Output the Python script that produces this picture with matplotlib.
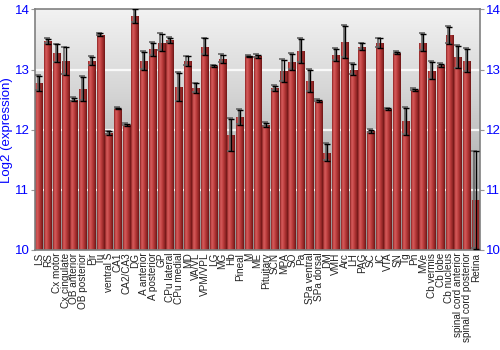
import numpy as np
import matplotlib
matplotlib.use("Agg")
import matplotlib.pyplot as plt
from matplotlib.colors import LinearSegmentedColormap
import matplotlib.transforms as mtransforms

regions = ["LS", "RS", "Cx motor", "Cx cingulate", "OB anterior", "OB posterior", "Pir", "Tu",
           "ventral S", "CA1", "CA2/CA3", "DG", "A anterior", "A posterior", "GP", "CPu lateral",
           "CPu medial", "MD", "VA/VL", "VPM/VPL", "LG", "MG", "Hb", "Pineal", "M", "ME",
           "Pituitary", "SCN", "MPA", "SO", "Pa", "SPa ventral", "SPa dorsal", "DM", "VMH", "Arc",
           "LH", "PAG", "SC", "IC", "VTA", "SN", "Tg", "Pn", "MVe", "Cb vermis", "Cb lobe",
           "Cb nucleus", "spinal cord anterior", "spinal cord posterior", "Retina"]

expression = [12.77, 13.47, 13.27, 13.14, 12.50, 12.68, 13.14, 13.58,
              11.94, 12.35, 12.08, 13.89, 13.14, 13.34, 13.45, 13.49,
              12.71, 13.14, 12.69, 13.38, 13.06, 13.18, 11.91, 12.21, 13.22, 13.22,
              12.08, 12.69, 12.98, 13.13, 13.31, 12.81, 12.48, 11.62, 13.24, 13.46,
              13.00, 13.38, 11.97, 13.44, 12.34, 13.28, 12.14, 12.66, 13.45, 12.98, 13.07,
              13.57, 13.21, 13.15, 10.83]

error = [0.125, 0.04, 0.15, 0.23, 0.03, 0.20, 0.07, 0.02,
         0.03, 0.01, 0.02, 0.12, 0.15, 0.11, 0.14, 0.04,
         0.24, 0.08, 0.08, 0.14, 0.01, 0.07, 0.27, 0.125, 0.01, 0.03,
         0.035, 0.04, 0.18, 0.13, 0.20, 0.18, 0.02, 0.14, 0.10, 0.27,
         0.09, 0.055, 0.02, 0.08, 0.015, 0.015, 0.225, 0.015, 0.145, 0.145, 0.02,
         0.14, 0.19, 0.19, 0.81]

y_ticks = [10, 11, 12, 13, 14]
y_label = "Log2 (expression)"

plt.rcParams['font.family'] = ['Liberation Sans', 'DejaVu Sans']

fig = plt.figure(figsize=(5, 3.5), dpi=100)
ax = fig.add_axes([0.07, 0.286, 0.89, 0.687])

# background vertical gradient
bg_cmap = LinearSegmentedColormap.from_list("bg", ["#8e8e8e", "#b4b4b4", "#d6d6d6", "#f2f2f2"])
bg = np.linspace(0, 1, 256).reshape(-1, 1)
ax.imshow(bg, extent=[0, 1, 0, 1], transform=ax.transAxes, aspect='auto',
          cmap=bg_cmap, origin='lower', zorder=0, interpolation='bicubic')

for yv in y_ticks[1:-1]:
    ax.axhline(yv, color='white', lw=1.6, alpha=0.85, zorder=1)

x = np.arange(len(regions))
ymin = y_ticks[0]
bars = ax.bar(x, np.array(expression) - ymin, bottom=ymin, width=0.9,
              facecolor='none', edgecolor='none', zorder=2)

bar_cmap = LinearSegmentedColormap.from_list(
    "bar", [(0.0, "#7a1c1c"), (0.12, "#c44848"), (0.3, "#d45a5a"), (0.55, "#bb3c3c"),
            (0.85, "#8e2424"), (1.0, "#6a1515")])
grad = np.linspace(0, 1, 64).reshape(1, -1)
for p in bars:
    bx, by = p.get_x(), p.get_y()
    bw, bh = p.get_width(), p.get_height()
    im = ax.imshow(grad, extent=[bx, bx + bw, by, by + bh], aspect='auto',
                   cmap=bar_cmap, zorder=2, interpolation='bilinear')
    im.set_clip_path(p)

# error bars: shadow then black
shadow = mtransforms.offset_copy(ax.transData, fig=fig, x=-1.2, y=0.8, units='dots')
ax.errorbar(x, expression, yerr=error, fmt='none', ecolor='#666666', elinewidth=1.2,
            capsize=2.5, capthick=1.2, zorder=3, transform=shadow)
ax.errorbar(x, expression, yerr=error, fmt='none', ecolor='black', elinewidth=1.0,
            capsize=2.5, capthick=1.0, zorder=4)

ax.set_xlim(-0.5, len(regions) - 0.5)
ax.set_ylim(y_ticks[0], y_ticks[-1])
ax.set_yticks(y_ticks)
ax.set_xticks(x)
ax.set_xticklabels(regions, rotation=90, fontsize=7.2, color='#222222')
ax.tick_params(axis='x', length=0, pad=2)
ax.tick_params(axis='y', which='both', left=True, right=True, labelleft=True, labelright=True,
               labelsize=9.5, labelcolor='#0000ff', color='#999999', length=3, width=0.8, pad=1)
ax.set_ylabel(y_label, color='#0000ff', fontsize=9.5)
ax.yaxis.set_label_coords(-0.05, 0.5)

for s in ax.spines.values():
    s.set_color('#808080')
    s.set_linewidth(1.2)

fig.savefig("out.png", dpi=100)
